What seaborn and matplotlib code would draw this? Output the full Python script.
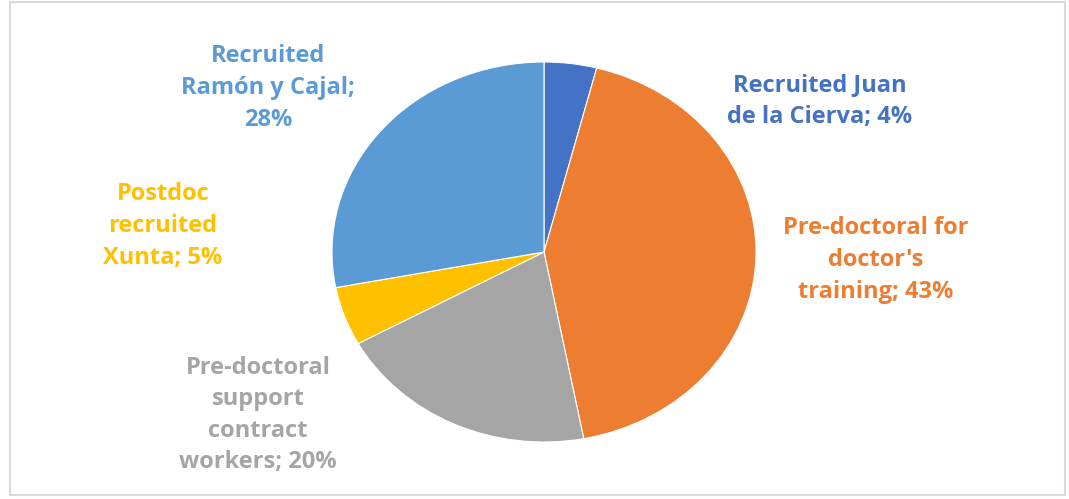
import matplotlib
matplotlib.use("Agg")
import matplotlib.pyplot as plt
import seaborn as sns
from matplotlib.patches import Rectangle

label_texts = ["Recruited Juan\nde la Cierva; 4%",
               "Pre-doctoral for\ndoctor's\ntraining; 43%",
               "Pre-doctoral\nsupport\ncontract\nworkers; 20%",
               "Postdoc\nrecruited\nXunta; 5%",
               "Recruited\nRamón y Cajal;\n28%"]
values = [4, 43, 20, 5, 28]
colors = ["#4472C4", "#ED7D31", "#A5A5A5", "#FFC000", "#5B9BD5"]

sns.set_theme(style="white")
plt.rcParams['font.family'] = ['Open Sans', 'DejaVu Sans']

W, H = 1069, 499
fig = plt.figure(figsize=(W / 100, H / 100), dpi=100)
fig.patch.set_facecolor("white")

# border
fig.add_artist(Rectangle((10 / W, 4 / H), (W - 14) / W, (H - 6) / H,
                         transform=fig.transFigure, fill=False,
                         edgecolor="#D9D9D9", linewidth=1.5))

cx, cy, rx, ry = 544, 252, 212, 190
ax = fig.add_axes([(cx - rx) / W, (H - cy - ry) / H, 2 * rx / W, 2 * ry / H])
ax.pie(values, colors=colors, startangle=90, counterclock=False,
       radius=1.0, wedgeprops=dict(edgecolor="white", linewidth=0.8))
ax.set_aspect("auto")
ax.set_xlim(-1, 1)
ax.set_ylim(-1, 1)
ax.axis("off")

label_pos = [(820, 101), (876, 260), (258, 415), (163, 226), (268, 88)]
for txt, (px, py), c in zip(label_texts, label_pos, colors):
    fig.text(px / W, 1 - py / H, txt, color=c, fontsize=17, fontweight="bold",
             ha="center", va="center", multialignment="center", linespacing=1.42)

fig.savefig("out.png", dpi=100, facecolor="white")
